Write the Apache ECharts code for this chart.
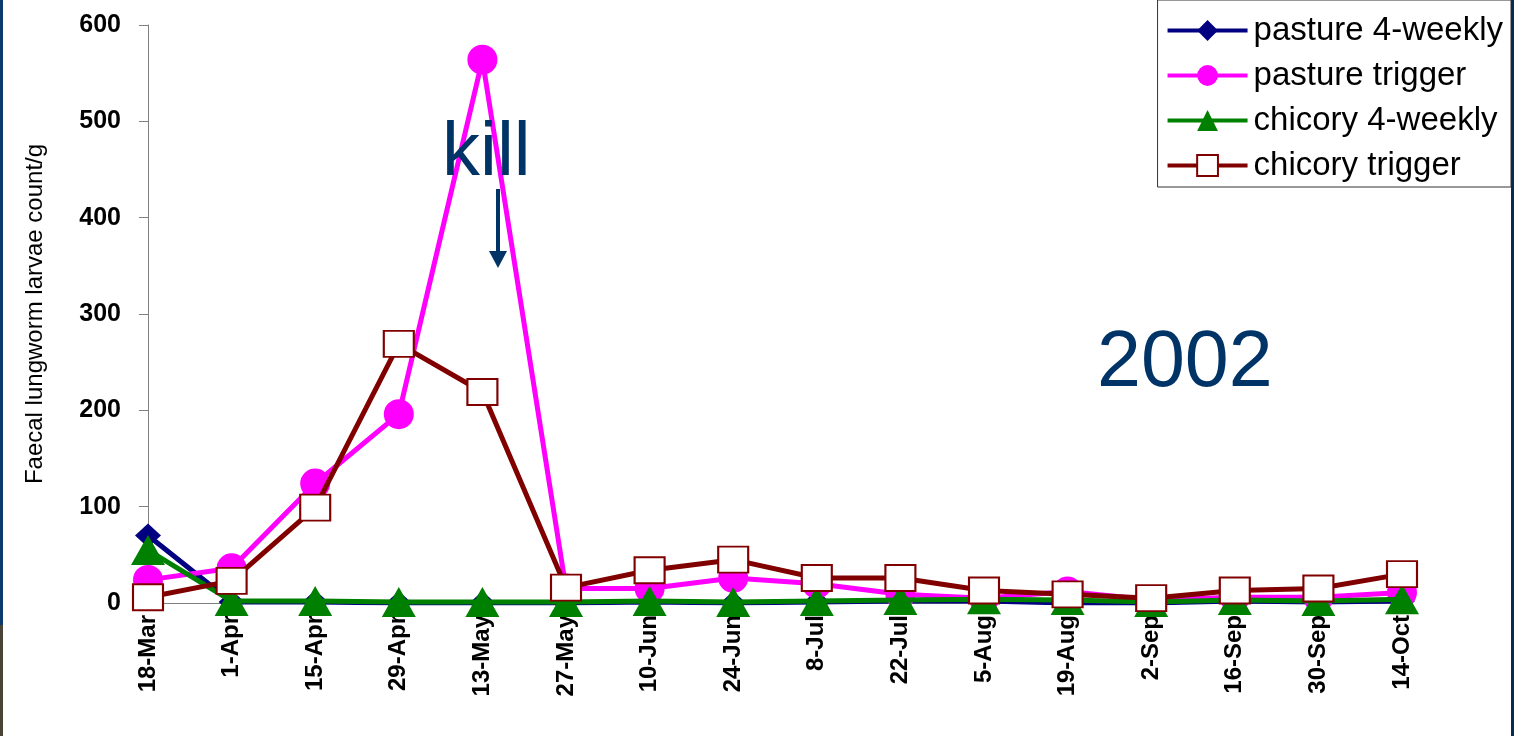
<!DOCTYPE html>
<html>
<head>
<meta charset="utf-8">
<script src="https://cdn.jsdelivr.net/npm/echarts@6/dist/echarts.min.js"></script>
<style>
  html, body { margin: 0; padding: 0; background: #fff; }
  #chart { width: 1514px; height: 736px; }
  .edge-l { position: absolute; left: 0; top: 0; width: 3px; height: 625px; background: #0b3a6b; }
  .edge-l2 { position: absolute; left: 0; top: 625px; width: 3px; height: 111px; background: #4a4436; }
  .edge-r { position: absolute; right: 0; top: 0; width: 3px; height: 736px; background: #0b2a4b; }
</style>
</head>
<body>
<div id="chart"></div>
<div class="edge-l"></div>
<div class="edge-l2"></div>
<div class="edge-r"></div>
<script>
// 采样日期
var dates = ["18-Mar", "1-Apr", "15-Apr", "29-Apr", "13-May", "27-May", "10-Jun", "24-Jun",
  "8-Jul", "22-Jul", "5-Aug", "19-Aug", "2-Sep", "16-Sep", "30-Sep", "14-Oct"];
// 各组数据
var pasture4w = [70, 1, 1, 0, 0, 0, 1, 0, 1, 2, 2, 0, 0, 2, 1, 2];
var pastureTrig = [24, 36, 124, 196, 564, 15, 15, 26, 20, 9, 5, 12, 3, 6, 6, 11];
var chicory4w = [55, 2, 2, 1, 1, 1, 2, 1, 2, 3, 4, 3, 1, 3, 2, 4];
var chicoryTrig = [6, 23, 99, 269, 219, 16, 34, 45, 26, 26, 13, 9, 5, 13, 15, 30];
var yTicks = [0, 100, 200, 300, 400, 500, 600];

var chart = echarts.init(document.getElementById("chart"));

function lineSeries(name, data, color, symbol, size, extra) {
  return Object.assign({
    name: name,
    type: "line",
    data: data,
    symbol: symbol,
    symbolSize: size,
    color: color,
    lineStyle: { width: 5, color: color },
    itemStyle: { color: color },
    animation: false
  }, extra || {});
}

chart.setOption({
  animation: false,
  grid: { left: 148, right: 112, top: 25, bottom: 133 },
  legend: {
    right: 3,
    top: 0,
    orient: "vertical",
    itemWidth: 80,
    itemHeight: 26,
    itemGap: 12,
    padding: [14, 8, 5, 8],
    borderColor: "#333",
    borderWidth: 1,
    backgroundColor: "#fff",
    lineStyle: { width: 4 },
    textStyle: { fontFamily: "Liberation Sans", fontSize: 33, color: "#000", padding: [0, 0, 0, 1] },
    data: ["pasture 4-weekly", "pasture trigger", "chicory 4-weekly", "chicory trigger"]
  },
  xAxis: {
    type: "category",
    data: dates,
    boundaryGap: false,
    axisLine: { lineStyle: { color: "#808080", width: 1 } },
    axisTick: { show: false },
    axisLabel: {
      rotate: 90,
      margin: 12,
      fontFamily: "Liberation Sans",
      fontWeight: "bold",
      fontSize: 24,
      color: "#000"
    }
  },
  yAxis: {
    type: "value",
    min: yTicks[0],
    max: yTicks[yTicks.length - 1],
    interval: 100,
    name: "Faecal lungworm larvae count/g",
    nameLocation: "middle",
    nameGap: 101,
    nameTextStyle: { fontFamily: "Liberation Sans", fontSize: 24, color: "#000" },
    splitLine: { show: false },
    axisLine: { show: true, lineStyle: { color: "#808080", width: 1 } },
    axisTick: { show: true, length: 9, lineStyle: { color: "#808080" } },
    axisLabel: {
      margin: 27,
      fontFamily: "Liberation Sans",
      fontWeight: "bold",
      fontSize: 25,
      color: "#000"
    }
  },
  series: [
    lineSeries("pasture 4-weekly", pasture4w, "#000080", "diamond", [26, 24], { z: 2 }),
    lineSeries("pasture trigger", pastureTrig, "#ff00ff", "circle", 30, { z: 3 }),
    lineSeries("chicory 4-weekly", chicory4w, "#008000", "triangle", [34, 30], { z: 4 }),
    lineSeries("chicory trigger", chicoryTrig, "#800000", "rect", [30, 26], {
      z: 5,
      itemStyle: { color: "#fff", borderColor: "#800000", borderWidth: 2 }
    })
  ],
  graphic: [
    {
      type: "text",
      left: 442,
      top: 116,
      z: 10,
      style: { text: "kill", fontFamily: "Liberation Sans", fontSize: 76, fill: "#003366" }
    },
    {
      type: "line",
      z: 10,
      shape: { x1: 498, y1: 189, x2: 498, y2: 255 },
      style: { stroke: "#003366", lineWidth: 4 }
    },
    {
      type: "polygon",
      z: 10,
      shape: { points: [[489, 251], [507, 251], [498, 268]] },
      style: { fill: "#003366" }
    },
    {
      type: "text",
      left: 1097,
      top: 325,
      z: 10,
      style: { text: "2002", fontFamily: "Liberation Sans", fontSize: 79, fill: "#003366" }
    }
  ]
});
</script>
</body>
</html>
